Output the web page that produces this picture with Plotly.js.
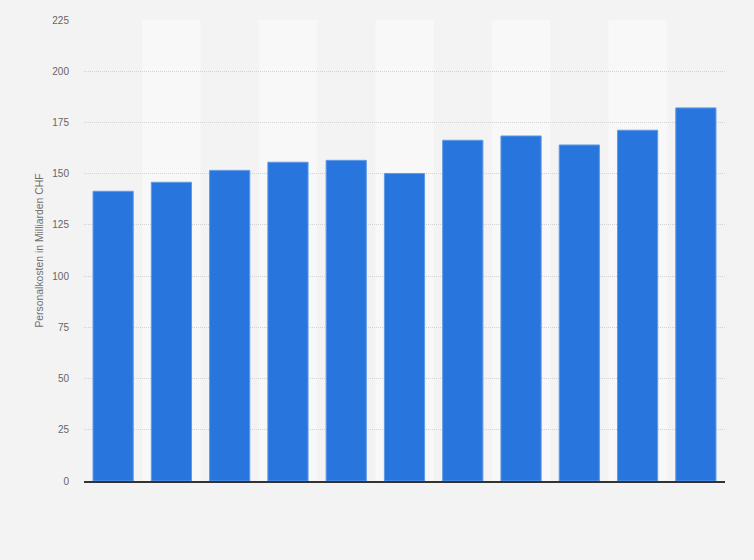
<!DOCTYPE html>
<html>
<head>
<meta charset="utf-8">
<script src="https://cdn.plot.ly/plotly-3.0.1.min.js"></script>
<style>
  html, body { margin: 0; padding: 0; background: #f3f3f3; }
  #chart { width: 754px; height: 560px; }
</style>
</head>
<body>
<div id="chart"></div>
<script>
// Personalkosten, Mrd. CHF (x labels are not shown in the source)
const years = ['2010', '2011', '2012', '2013', '2014', '2015', '2016', '2017', '2018', '2019', '2020'];
const costs = [141.4, 145.8, 151.6, 155.6, 156.5, 150.1, 166.3, 168.4, 164.0, 171.2, 182.1];
const yTicks = [0, 25, 50, 75, 100, 125, 150, 175, 200, 225];

// lighter background band behind every second column
const bands = [];
years.forEach((y, i) => {
    if (i % 2 === 1) {
        bands.push({
            type: 'rect',
            xref: 'x', yref: 'y',
            x0: i - 0.5, x1: i + 0.5,
            y0: 0, y1: 225,
            fillcolor: '#f8f8f8',
            line: { width: 0 },
            layer: 'below'
        });
    }
});

const traces = [{
    type: 'bar',
    x: years,
    y: costs,
    marker: {
        color: '#2876dd',
        line: { color: '#5f9be6', width: 1 }
    },
    hoverinfo: 'y'
}];

const layout = {
    width: 754,
    height: 560,
    paper_bgcolor: '#f3f3f3',
    plot_bgcolor: 'rgba(0,0,0,0)',
    font: { family: 'Liberation Sans, Arial, sans-serif', color: '#666666', size: 10 },
    margin: { l: 84, r: 29, t: 20, b: 79 },
    bargap: 0.31,
    showlegend: false,
    shapes: bands,
    xaxis: {
        type: 'category',
        showticklabels: false,
        showgrid: false,
        showline: true,
        linecolor: '#333333',
        linewidth: 1.5,
        ticks: ''
    },
    yaxis: {
        range: [0, 225],
        tickvals: yTicks,
        ticks: 'outside',
        ticklen: 12,
        tickcolor: 'rgba(0,0,0,0)',
        tickfont: { size: 10, color: '#666666' },
        showgrid: true,
        gridcolor: '#d2d2d2',
        griddash: '1px,1px',
        gridwidth: 1,
        zeroline: false,
        showline: false,
        title: {
            text: 'Personalkosten in Milliarden CHF',
            font: { size: 10.4, color: '#707070' },
            standoff: 6
        }
    }
};

Plotly.newPlot('chart', traces, layout, { displayModeBar: false, staticPlot: true });
</script>
</body>
</html>
